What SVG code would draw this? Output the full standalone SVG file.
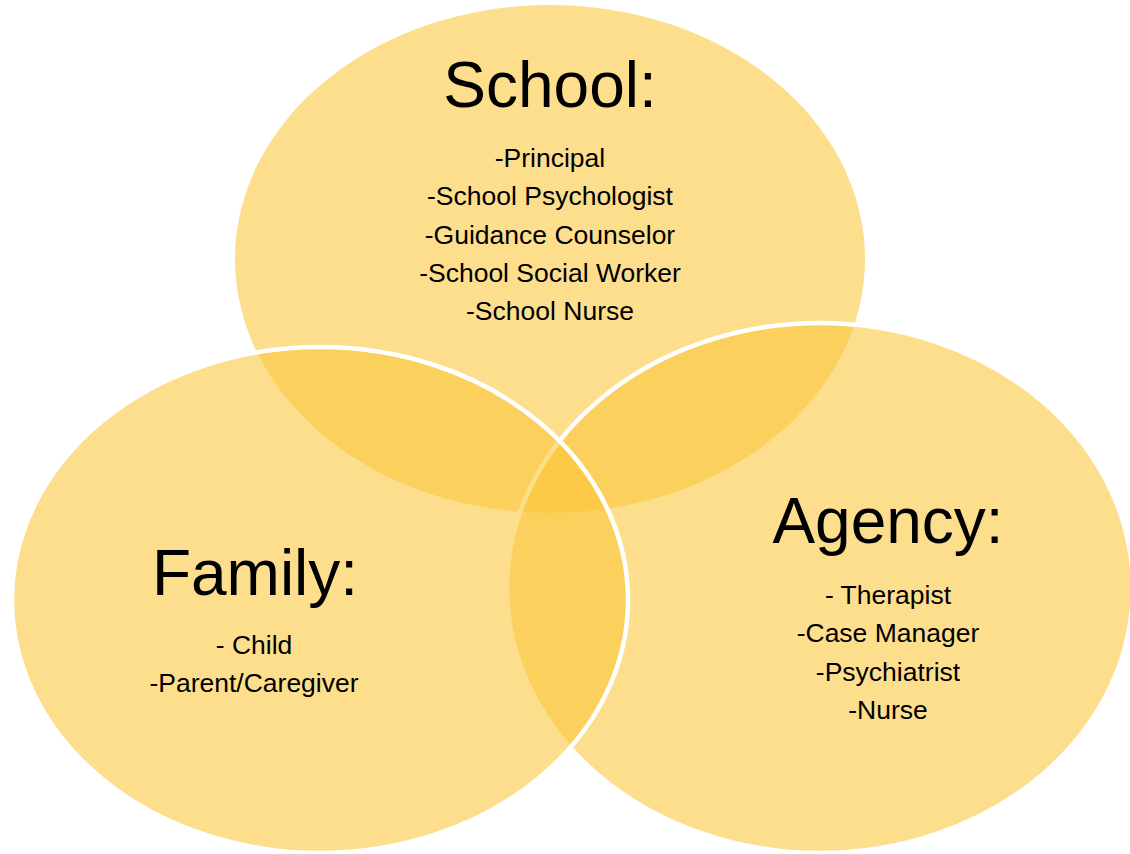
<svg xmlns="http://www.w3.org/2000/svg" width="1130" height="854" viewBox="0 0 1130 854">
  <style>
    .set { fill: #FBC639; fill-opacity: 0.58; }
    .edge { stroke: #FFFFFF; stroke-width: 4.5; }
    .title { font-family: "Liberation Sans", Arial, sans-serif; font-size: 64px; fill: #000000; text-anchor: middle; }
    .item { font-family: "Liberation Sans", Arial, sans-serif; font-size: 26.5px; fill: #000000; text-anchor: middle; }
  </style>
  <rect x="0" y="0" width="1130" height="854" fill="#FFFFFF"/>

  <!-- Venn sets: school first, then agency, family on top -->
  <g id="school">
    <ellipse class="set" cx="550" cy="259" rx="315" ry="254"/>
    <text class="title" x="550" y="107">School:</text>
    <text class="item" x="550" y="167">-Principal</text>
    <text class="item" x="550" y="205">-School Psychologist</text>
    <text class="item" x="550" y="244">-Guidance Counselor</text>
    <text class="item" x="550" y="282">-School Social Worker</text>
    <text class="item" x="550" y="320">-School Nurse</text>
  </g>

  <g id="agency">
    <ellipse class="set edge" cx="820" cy="588" rx="313" ry="265"/>
  </g>

  <g id="family">
    <ellipse class="set edge" cx="320" cy="600" rx="308" ry="253"/>
  </g>

  <!-- labels for agency and family sit above all fills -->
  <g id="agency-labels">
    <text class="title" x="888" y="543">Agency:</text>
    <text class="item" x="888" y="604">- Therapist</text>
    <text class="item" x="888" y="642">-Case Manager</text>
    <text class="item" x="888" y="681">-Psychiatrist</text>
    <text class="item" x="888" y="719">-Nurse</text>
  </g>

  <g id="family-labels">
    <text class="title" x="255" y="595">Family:</text>
    <text class="item" x="254" y="654">- Child</text>
    <text class="item" x="254" y="692">-Parent/Caregiver</text>
  </g>

  <!-- no connectors in this diagram -->
  <g id="connectors"/>
</svg>
